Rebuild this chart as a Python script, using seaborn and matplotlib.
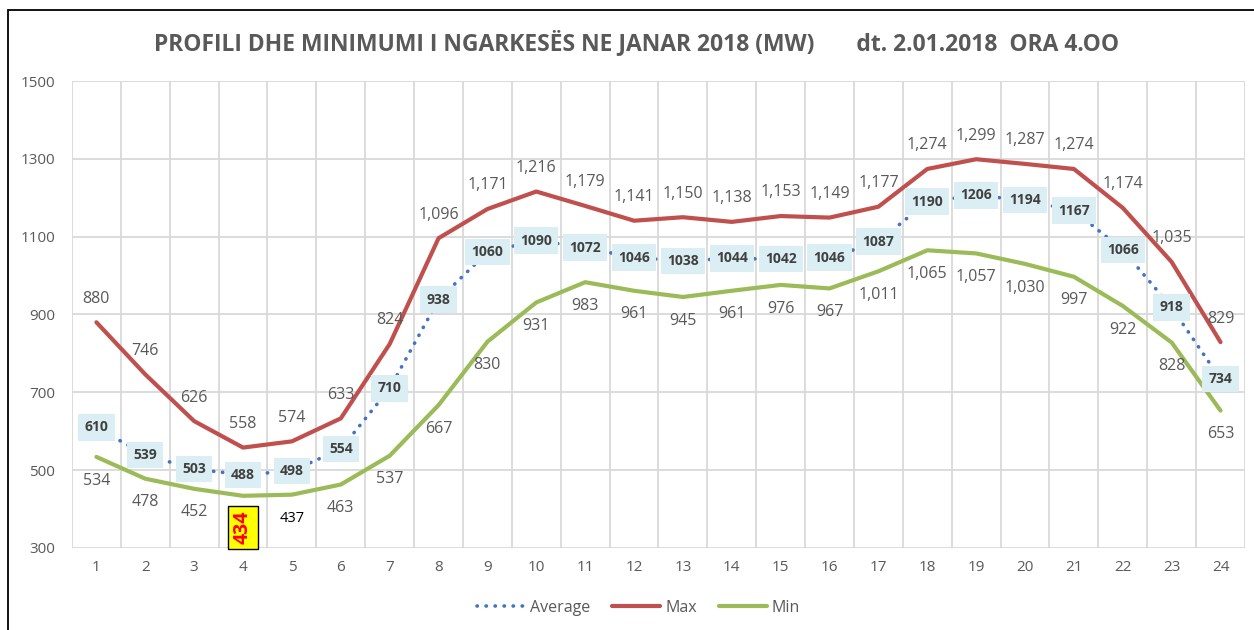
import numpy as np
import pandas as pd
import matplotlib
matplotlib.use("Agg")
import matplotlib.pyplot as plt
from matplotlib.patches import Rectangle
import seaborn as sns

# ============================
# DATA
# ============================
hours = list(range(1, 25))
avg_vals = [610, 539, 503, 488, 498, 554, 710, 938, 1060, 1090, 1072, 1046,
            1038, 1044, 1042, 1046, 1087, 1190, 1206, 1194, 1167, 1066, 918, 734]
max_vals = [880, 746, 626, 558, 574, 633, 824, 1096, 1171, 1216, 1179, 1141,
            1150, 1138, 1153, 1149, 1177, 1274, 1299, 1287, 1274, 1174, 1035, 829]
min_vals = [534, 478, 452, 434, 437, 463, 537, 667, 830, 931, 983, 961,
            945, 961, 976, 967, 1011, 1065, 1057, 1030, 997, 922, 828, 653]
y_ticks = [300, 500, 700, 900, 1100, 1300, 1500]
title = "PROFILI DHE MINIMUMI I NGARKESËS NE JANAR 2018 (MW)       dt. 2.01.2018  ORA 4.OO"

# ============================
# STYLE
# ============================
sns.set_style("white")
plt.rcParams['font.family'] = ['Open Sans', 'DejaVu Sans']
GREY = "#595959"
C_AVG = "#4472C4"
C_MAX = "#C0504D"
C_MIN = "#9BBB59"

df = pd.DataFrame({"hour": hours, "Average": avg_vals, "Max": max_vals, "Min": min_vals})

fig = plt.figure(figsize=(12.54, 6.30), dpi=100)
ax = fig.add_axes([0.0574, 0.1302, 0.9354, 0.7412])

sns.lineplot(data=df, x="hour", y="Average", ax=ax, color=C_AVG, lw=2.6,
             linestyle=(0, (0.1, 2.4)), label="Average")
sns.lineplot(data=df, x="hour", y="Max", ax=ax, color=C_MAX, lw=3, label="Max")
sns.lineplot(data=df, x="hour", y="Min", ax=ax, color=C_MIN, lw=3, label="Min")
for ln in ax.lines:
    ln.set_dash_capstyle("round")
    ln.set_solid_capstyle("round")

ax.set_xlim(0.5, 24.5)
ax.set_ylim(300, 1500)
ax.set_yticks(y_ticks)
ax.set_xticks(hours)
ax.grid(False)
for y in y_ticks:
    ax.axhline(y, color="#D9D9D9", lw=1.3, zorder=0)
for x in np.arange(0.5, 25, 1):
    ax.axvline(x, color="#D9D9D9", lw=1.3, zorder=0)
for s in ax.spines.values():
    s.set_visible(False)
ax.tick_params(axis="both", length=0, labelsize=11, labelcolor=GREY)
ax.tick_params(axis="y", pad=12)
ax.tick_params(axis="x", pad=9)
ax.set_xlabel("")
ax.set_ylabel("")

# ============================
# LABELS
# ============================
for h, v in zip(hours, max_vals):
    ax.annotate(f"{v:,}", (h, v), xytext=(0, 17), textcoords="offset points",
                ha="center", va="center", fontsize=11.5, color=GREY)

for h, v in zip(hours, min_vals):
    if h == 4:
        ax.annotate(f"{v}", (h, v), xytext=(0, -23), textcoords="offset points",
                    ha="center", va="center", fontsize=14, color="red",
                    fontweight="bold", rotation=90,
                    bbox=dict(boxstyle="square,pad=0.25", fc="yellow", ec="black", lw=1))
    elif h == 5:
        ax.annotate(f"{v}", (h, v), xytext=(0, -17), textcoords="offset points",
                    ha="center", va="center", fontsize=10.5, color="black")
    else:
        ax.annotate(f"{v:,}", (h, v), xytext=(0, -17), textcoords="offset points",
                    ha="center", va="center", fontsize=11.5, color=GREY)

for h, v in zip(hours, avg_vals):
    ax.annotate(f"{v}", (h, v), ha="center", va="center", fontsize=10,
                fontweight="bold", color="#404040",
                bbox=dict(boxstyle="square,pad=0.45", fc="#DAEEF3", ec="none"))

fig.text(0.5076, 0.931, title, ha="center", va="center", fontsize=16.5,
         fontweight="bold", color=GREY)

leg = ax.legend(loc="center", bbox_to_anchor=(0.483, -0.128), ncol=3, frameon=False,
                fontsize=11.5, handlelength=3.0, columnspacing=1.4, handletextpad=0.3)
for t in leg.get_texts():
    t.set_color(GREY)

fig.patches.append(Rectangle((8 / 1254, -0.1), 1.2, 1 - 10 / 630 + 0.1,
                             transform=fig.transFigure, fill=False,
                             ec="black", lw=1.3, zorder=10))

fig.savefig("out.png", dpi=100)
